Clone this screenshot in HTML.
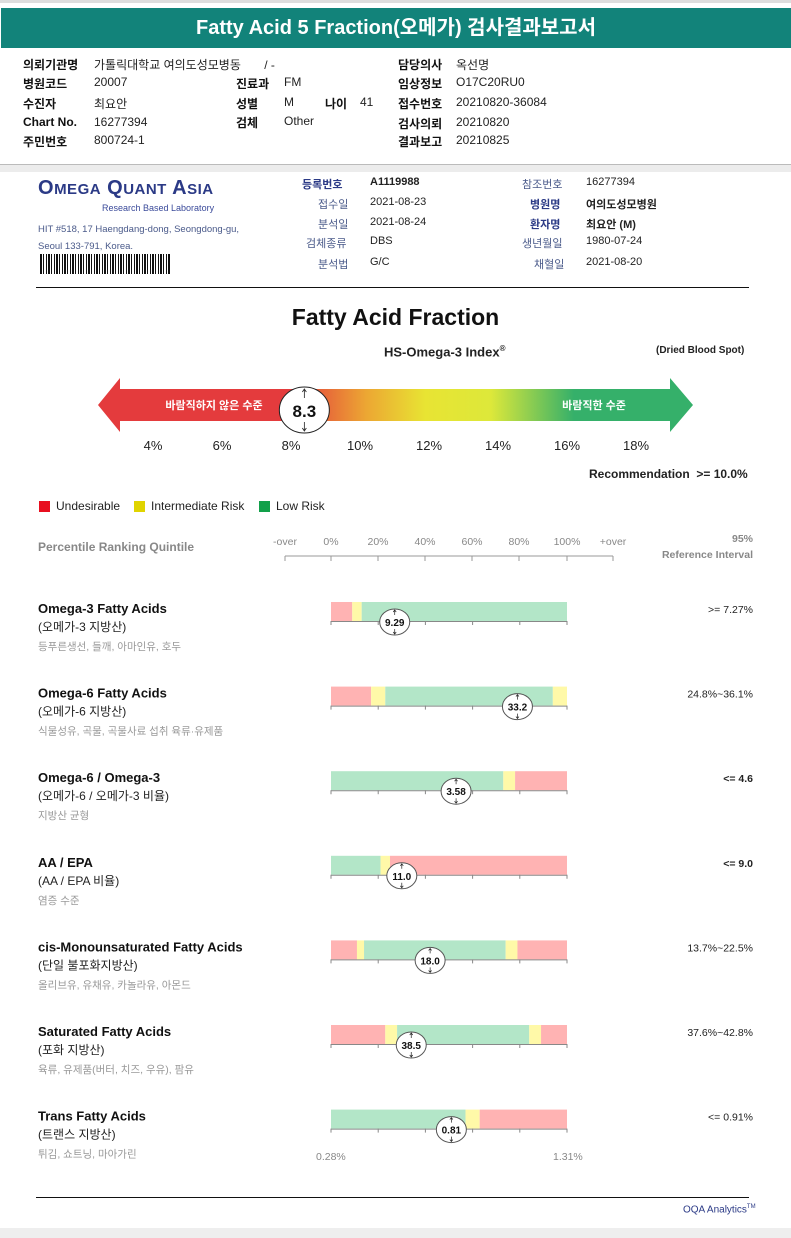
<!DOCTYPE html>
<html><head><meta charset="utf-8">
<style>
*{margin:0;padding:0;box-sizing:border-box}
body{width:791px;height:1238px;background:#fff;position:relative;overflow:hidden;font-family:"Liberation Sans","Noto Sans CJK KR",sans-serif;color:#222}
.a{position:absolute;white-space:nowrap}
.b{font-weight:bold}
.hd{font-size:12px}
.k{font-size:12px;font-weight:bold;color:#111}
.g{color:#555}
</style></head>
<body>
<div class="a" style="left:0;top:0;width:791px;height:3px;background:#ddd"></div>
<div class="a" style="left:1px;top:8px;width:790px;height:40px;background:#12837a;color:#fff;font-size:20px;font-weight:bold;text-align:center;line-height:40px">Fatty Acid 5 Fraction(오메가) 검사결과보고서</div>

<div>
<div class="a k" style="left:23px;top:56px">의뢰기관명</div><div class="a hd" style="left:94px;top:56px">가톨릭대학교 여의도성모병동 &nbsp;&nbsp;&nbsp;&nbsp;&nbsp;&nbsp;/ -</div>
<div class="a k" style="left:23px;top:75px">병원코드</div><div class="a hd" style="left:94px;top:75px">20007</div>
<div class="a k" style="left:23px;top:95px">수진자</div><div class="a hd" style="left:94px;top:95px">최요안</div>
<div class="a k" style="left:23px;top:115px">Chart No.</div><div class="a hd" style="left:94px;top:115px">16277394</div>
<div class="a k" style="left:23px;top:133px">주민번호</div><div class="a hd" style="left:94px;top:133px">800724-1</div>
<div class="a k" style="left:236px;top:75px">진료과</div><div class="a hd" style="left:284px;top:75px">FM</div>
<div class="a k" style="left:236px;top:95px">성별</div><div class="a hd" style="left:284px;top:95px">M</div>
<div class="a k" style="left:325px;top:95px">나이</div><div class="a hd" style="left:360px;top:95px">41</div>
<div class="a k" style="left:236px;top:114px">검체</div><div class="a hd" style="left:284px;top:114px">Other</div>
<div class="a k" style="left:398px;top:56px">담당의사</div><div class="a hd" style="left:456px;top:56px">옥선명</div>
<div class="a k" style="left:398px;top:75px">임상정보</div><div class="a hd" style="left:456px;top:75px">O17C20RU0</div>
<div class="a k" style="left:398px;top:95px">접수번호</div><div class="a hd" style="left:456px;top:95px">20210820-36084</div>
<div class="a k" style="left:398px;top:115px">검사의뢰</div><div class="a hd" style="left:456px;top:115px">20210820</div>
<div class="a k" style="left:398px;top:133px">결과보고</div><div class="a hd" style="left:456px;top:133px">20210825</div>
</div>
<div class="a" style="left:0;top:164px;width:791px;height:8px;background:#ececec;border-top:1px solid #bbb"></div>

<div class="a" style="left:38px;top:177px;font-size:20px;font-weight:bold;color:#2b3a86;letter-spacing:0.5px">O<span style="font-size:15px">MEGA</span> Q<span style="font-size:15px">UANT</span> A<span style="font-size:15px">SIA</span></div>
<div class="a" style="left:102px;top:203px;font-size:9px;color:#3a4a9a">Research Based Laboratory</div>
<div class="a" style="left:38px;top:221px;font-size:9.5px;color:#4a5a8a;line-height:17px">HIT #518, 17 Haengdang-dong, Seongdong-gu,<br>Seoul 133-791, Korea.</div>
<div class="a" style="left:40px;top:254px;width:131px;height:20px;background:repeating-linear-gradient(90deg,#111 0 2px,#fff 2px 3px,#111 3px 4px,#fff 4px 6px,#111 6px 7px,#fff 7px 8px)"></div>

<div style="font-size:11px">
<div class="a b" style="left:302px;top:176px;color:#2b3a86">등록번호</div><div class="a b" style="left:370px;top:176px">A1119988</div>
<div class="a g" style="left:318px;top:196px;color:#4a5a8a">접수일</div><div class="a" style="left:370px;top:196px">2021-08-23</div>
<div class="a" style="left:318px;top:216px;color:#4a5a8a">분석일</div><div class="a" style="left:370px;top:216px">2021-08-24</div>
<div class="a" style="left:306px;top:235px;color:#4a5a8a">검체종류</div><div class="a" style="left:370px;top:235px">DBS</div>
<div class="a" style="left:318px;top:256px;color:#4a5a8a">분석법</div><div class="a" style="left:370px;top:256px">G/C</div>
<div class="a" style="left:522px;top:176px;color:#4a5a8a">참조번호</div><div class="a" style="left:586px;top:176px">16277394</div>
<div class="a b" style="left:530px;top:196px;color:#2b3a86">병원명</div><div class="a b" style="left:586px;top:196px">여의도성모병원</div>
<div class="a b" style="left:530px;top:216px;color:#2b3a86">환자명</div><div class="a b" style="left:586px;top:216px">최요안 (M)</div>
<div class="a" style="left:522px;top:235px;color:#4a5a8a">생년월일</div><div class="a" style="left:586px;top:235px">1980-07-24</div>
<div class="a" style="left:534px;top:256px;color:#4a5a8a">채혈일</div><div class="a" style="left:586px;top:256px">2021-08-20</div>
</div>
<div class="a" style="left:36px;top:287px;width:713px;height:1px;background:#111"></div>

<div class="a b" style="left:0;width:791px;text-align:center;top:304px;font-size:23px;color:#111">Fatty Acid Fraction</div>
<div class="a b" style="left:384px;top:344px;font-size:13px">HS-Omega-3 Index<sup style="font-size:8px">®</sup></div>
<div class="a b" style="left:656px;top:345px;font-size:10px">(Dried Blood Spot)</div>

<svg class="a" style="left:0;top:0" width="791" height="1238" id="svg">
<defs>
<linearGradient id="gr" x1="0" x2="1">
<stop offset="0" stop-color="#e43b3d"/><stop offset="0.33" stop-color="#e43b3d"/>
<stop offset="0.45" stop-color="#eca633"/><stop offset="0.55" stop-color="#e8e433"/>
<stop offset="0.66" stop-color="#dde83a"/><stop offset="0.8" stop-color="#35b06a"/><stop offset="1" stop-color="#35b06a"/>
</linearGradient>
</defs>
<g id="main"></g>
<g id="bars"></g>
</svg>

<div class="a b" style="left:589px;top:467px;font-size:12px">Recommendation &nbsp;&gt;= 10.0%</div>
<div>
<div class="a" style="left:39px;top:501px;width:11px;height:11px;background:#e80f1f"></div><div class="a" style="left:56px;top:499px;font-size:12px">Undesirable</div>
<div class="a" style="left:134px;top:501px;width:11px;height:11px;background:#e0d400"></div><div class="a" style="left:151px;top:499px;font-size:12px">Intermediate Risk</div>
<div class="a" style="left:259px;top:501px;width:11px;height:11px;background:#12a04a"></div><div class="a" style="left:276px;top:499px;font-size:12px">Low Risk</div>
</div>
<div class="a b" style="left:38px;top:540px;font-size:12px;color:#888">Percentile Ranking Quintile</div>
<div class="a b" style="left:640px;width:113px;text-align:right;top:531px;font-size:10.5px;color:#888;line-height:16px">95%<br>Reference Interval</div>

<div class="a" style="left:316px;top:1151px;font-size:10.5px;color:#888">0.28%</div>
<div class="a" style="left:553px;top:1151px;font-size:10.5px;color:#888">1.31%</div>
<div class="a" style="left:36px;top:1197px;width:713px;height:1px;background:#111"></div>
<div class="a" style="left:683px;top:1204px;font-size:10px;color:#2b3a86">OQA Analytics<sup style="font-size:6px">TM</sup></div>
<div class="a" style="left:0;top:1228px;width:791px;height:10px;background:#eee"></div>

<script>
const NS='http://www.w3.org/2000/svg';
const scaleTicks=[4,6,8,10,12,14,16,18];
const indexValue=8.3;
const quintileLabels=['-over','0%','20%','40%','60%','80%','100%','+over'];
const names=['Omega-3 Fatty Acids','Omega-6 Fatty Acids','Omega-6 / Omega-3','AA / EPA','cis-Monounsaturated Fatty Acids','Saturated Fatty Acids','Trans Fatty Acids'];
const subNames=['(오메가-3 지방산)','(오메가-6 지방산)','(오메가-6 / 오메가-3 비율)','(AA / EPA 비율)','(단일 불포화지방산)','(포화 지방산)','(트랜스 지방산)'];
const foods=['등푸른생선, 들깨, 아마인유, 호두','식물성유, 곡물, 곡물사료 섭취 육류·유제품','지방산 균형','염증 수준','올리브유, 유채유, 카놀라유, 아몬드','육류, 유제품(버터, 치즈, 우유), 팜유','튀김, 쇼트닝, 마아가린'];
const refs=['>= 7.27%','24.8%~36.1%','<= 4.6','<= 9.0','13.7%~22.5%','37.6%~42.8%','<= 0.91%'];
const refBold=[false,false,true,true,false,false,false];
const values=['9.29','33.2','3.58','11.0','18.0','38.5','0.81'];
// marker position in percentile (0-100)
const markerPct=[27,79,53,30,42,34,51];
// zone segments: [endPct, type] r=red y=yellow g=green
const zones=[
 [[9,'r'],[13,'y'],[100,'g']],
 [[17,'r'],[23,'y'],[94,'g'],[100,'y']],
 [[73,'g'],[78,'y'],[100,'r']],
 [[21,'g'],[25,'y'],[100,'r']],
 [[11,'r'],[14,'y'],[74,'g'],[79,'y'],[100,'r']],
 [[23,'r'],[28,'y'],[84,'g'],[89,'y'],[100,'r']],
 [[57,'g'],[63,'y'],[100,'r']]
];
const colors={r:'#ffb3b3',y:'#fff9a8',g:'#b3e6c8'};

function mk(tag,at,parent){const e=document.createElementNS(NS,tag);for(const k in at)e.setAttribute(k,at[k]);parent.appendChild(e);return e;}
const main=document.getElementById('main'),bars=document.getElementById('bars');
// main arrow
const sx=v=>153+(v-4)*(636-153)/14;
const arr=mk('path',{d:'M98,405 L120,378 L120,389 L670,389 L670,378 L693,405 L670,432 L670,421 L120,421 L120,432 Z',fill:'url(#gr)'},main);

let t=mk('text',{x:214,y:409,'font-size':11,'font-weight':'bold',fill:'#fff','text-anchor':'middle'},main);t.textContent='바람직하지 않은 수준';

t=mk('text',{x:594,y:409,'font-size':11,'font-weight':'bold',fill:'#fff','text-anchor':'middle'},main);t.textContent='바람직한 수준';

scaleTicks.forEach(v=>{const e=mk('text',{x:sx(v),y:450,'font-size':13,'text-anchor':'middle',fill:'#222'},main);e.textContent=v+'%';
});
const mx=sx(indexValue)+3;
const c=mk('ellipse',{cx:mx,cy:410,rx:25,ry:23,fill:'#fff',stroke:'#222','stroke-width':1},main);

mk('path',{d:`M${mx},390 v8 M${mx-2},392 l2,-3 l2,3 M${mx},422 v8 M${mx-2},428 l2,3 l2,-3`,stroke:'#222',fill:'none','stroke-width':0.8},main);
t=mk('text',{x:mx,y:417,'font-size':17,'font-weight':'bold','text-anchor':'middle',fill:'#111'},main);t.textContent=indexValue;

// quintile axis
const qx=[285,331,378,425,472,519,567,613];
mk('line',{x1:285,x2:613,y1:556,y2:556,stroke:'#999'},main);
quintileLabels.forEach((l,i)=>{mk('line',{x1:qx[i],x2:qx[i],y1:556,y2:561,stroke:'#999'},main);
const e=mk('text',{x:qx[i],y:545,'font-size':10.5,'text-anchor':'middle',fill:'#888'},main);e.textContent=l;
});
// bars
const X0=331,W=236,px=p=>X0+p*W/100;
names.forEach((n,i)=>{
 const top=602+i*84.6;
 const g=mk('g',{},bars);
 
 let e=mk('text',{x:38,y:top+11,'font-size':13,'font-weight':'bold',fill:'#111'},g);e.textContent=n;
 e=mk('text',{x:38,y:top+29,'font-size':12,fill:'#222'},g);e.textContent=subNames[i];
 e=mk('text',{x:38,y:top+48,'font-size':10.5,fill:'#999'},g);e.textContent=foods[i];
 e=mk('text',{x:753,y:top+11,'font-size':10.5,'font-weight':refBold[i]?'bold':'normal','text-anchor':'end',fill:'#222'},g);e.textContent=refs[i];
 let s=0;zones[i].forEach(([end,ty])=>{const r=mk('rect',{x:px(s),y:top,width:px(end)-px(s),height:19,fill:colors[ty]},g);
  s=end;});
 mk('line',{x1:X0,x2:X0+W,y1:top+19.5,y2:top+19.5,stroke:'#888','stroke-width':1},g);
 for(let k=0;k<=5;k++)mk('line',{x1:px(k*20),x2:px(k*20),y1:top+19,y2:top+23,stroke:'#888'},g);
 const m=px(markerPct[i]),cy=top+20;
 const el=mk('ellipse',{cx:m,cy:cy,rx:15,ry:13,fill:'#fff',stroke:'#555'},g);
 
 mk('path',{d:`M${m},${cy-12} v5 M${m-1.5},${cy-10} l1.5,-2 l1.5,2 M${m},${cy+7} v5 M${m-1.5},${cy+10} l1.5,2 l1.5,-2`,stroke:'#222',fill:'none','stroke-width':0.7},g);
 e=mk('text',{x:m,y:cy+4,'font-size':10,'font-weight':'bold','text-anchor':'middle',fill:'#111'},g);e.textContent=values[i];
});
</script>
</body></html>
